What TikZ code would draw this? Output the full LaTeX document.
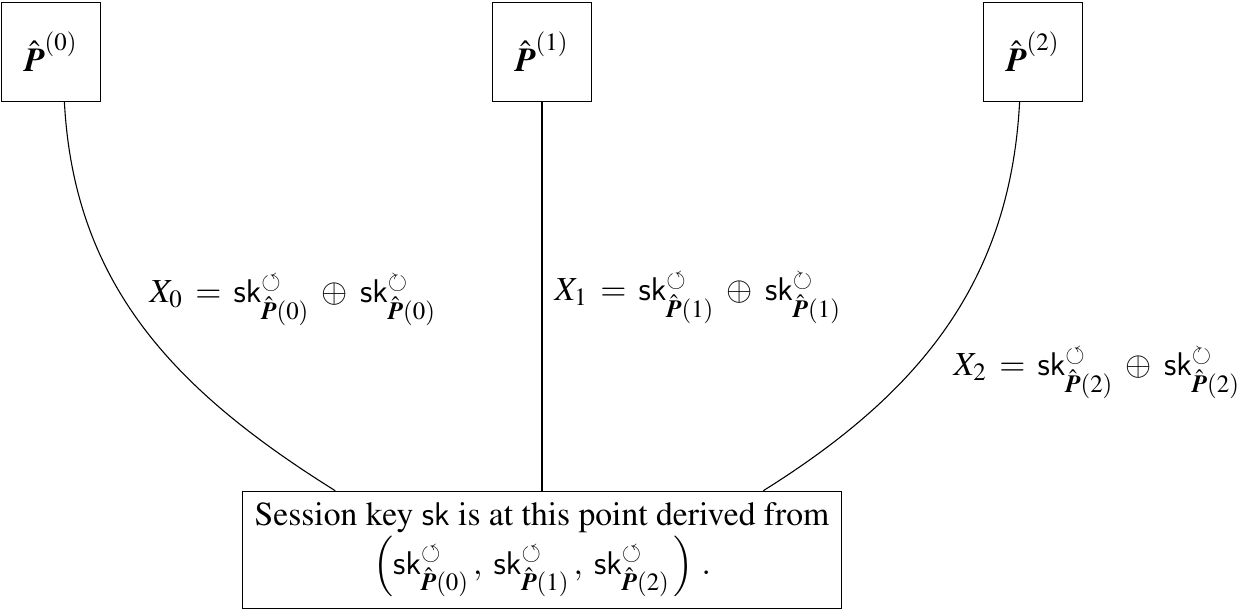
\documentclass[tikz,border=0pt]{standalone}
\usepackage[T1]{fontenc}
\usepackage{amsmath}
\usepackage{amssymb}
\usepackage{mathptmx}
\usepackage[scaled=1.03]{helvet}
\usepackage{tikz}

\newcommand{\party}[1]{\hat{\text{\bfseries\itshape P}}^{(#1)}}
\newcommand{\partysub}[1]{\hat{\text{\bfseries\itshape P}}(#1)}
\newcommand{\sk}{\mathsf{sk}}

\begin{document}
\begin{tikzpicture}[x=0.366pt, y=-0.366pt,
    every node/.style={font=\fontsize{12.3}{15}\selectfont},
    partybox/.style={draw, minimum size=36.2pt, inner sep=0pt},
    keybox/.style={draw, align=center, minimum width=219pt, minimum height=43pt, inner sep=2pt}]
    \useasboundingbox (0, 0) rectangle (1250, 612);
    % parties
    \node[partybox] (p0) at (51, 52) {$\party{0}$};
    \node[partybox] (p1) at (542, 52) {$\party{1}$};
    \node[partybox] (p2) at (1033, 52) {$\party{2}$};

    % session key
    \node[keybox] (key) at (542, 550) {Session key $\sk$ is at this point derived from\\
        $\left(\sk^{\circlearrowleft}_{\partysub{0}}\,,\; \sk^{\circlearrowleft}_{\partysub{1}}\,,\; \sk^{\circlearrowleft}_{\partysub{2}}\,\right)\,.$};

    % links
    \draw[] (p0.-75) to[out=-87, in=148] (key.164.4);
    \draw[] (p1.south) -- (key.north);
    \draw[] (p2.-105) to[out=-93, in=32] (key.15.6);

    % xor labels
    \node[anchor=west] (x0) at (140, 300) {$X_0 \:=\: \sk^{\circlearrowleft}_{\partysub{0}} \;\oplus\; \sk^{\circlearrowright}_{\partysub{0}}$};
    \node[anchor=west] (x1) at (545, 298) {$X_1 \:=\: \sk^{\circlearrowleft}_{\partysub{1}} \;\oplus\; \sk^{\circlearrowright}_{\partysub{1}}$};
    \node[anchor=west] (x2) at (944, 373) {$X_2 \:=\: \sk^{\circlearrowleft}_{\partysub{2}} \;\oplus\; \sk^{\circlearrowright}_{\partysub{2}}$};
\end{tikzpicture}
\end{document}
